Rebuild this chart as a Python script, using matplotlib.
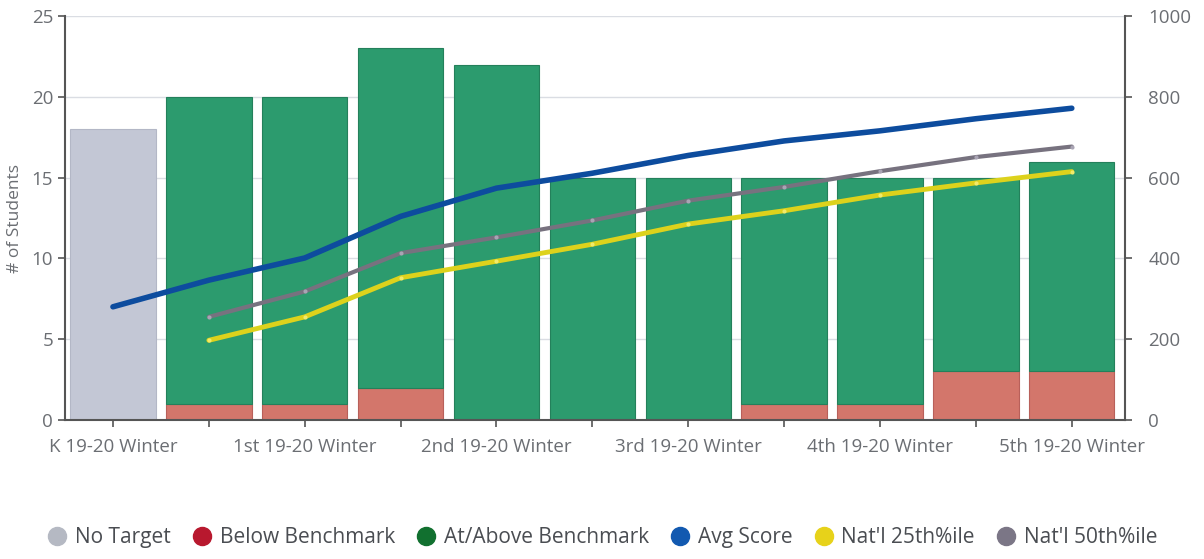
import matplotlib
matplotlib.use("Agg")
import matplotlib.pyplot as plt
from matplotlib.lines import Line2D
import numpy as np

plt.rcParams['font.family'] = ['Open Sans', 'DejaVu Sans']

grades = ["K 19-20 Winter", "", "1st 19-20 Winter", "", "2nd 19-20 Winter", "",
          "3rd 19-20 Winter", "", "4th 19-20 Winter", "", "5th 19-20 Winter"]
no_target = [18, 0, 0, 0, 0, 0, 0, 0, 0, 0, 0]
below = [0, 1, 1, 2, 0, 0, 0, 1, 1, 3, 3]
at_above = [0, 19, 19, 21, 22, 15, 15, 14, 14, 12, 13]
avg_score = [280, 346, 401, 504, 574, 611, 655, 691, 716, 746, 772]
natl_25 = [None, 197, 255, 352, 393, 435, 485, 518, 557, 587, 615]
natl_50 = [None, 255, 318, 413, 452, 494, 543, 577, 616, 651, 677]

c_gray = "#c3c7d5"
c_red = "#d3766b"
c_green = "#2c9b6e"
c_blue = "#0d4c9e"
c_yellow = "#ddd21c"
c_grayline = "#77727f"
txt = "#6b6e73"

fig = plt.figure(figsize=(12.04, 5.59), dpi=100)
ax = fig.add_axes([0.054, 0.249, 0.880, 0.722])
x = np.arange(len(grades))
w = 0.89

ax.bar(x, no_target, w, color=c_gray, edgecolor="#b3b7c6", linewidth=0.8, zorder=2)
ax.bar(x, below, w, color=c_red, edgecolor="#b8605a", linewidth=0.8, zorder=2)
ax.bar(x, at_above, w, bottom=below, color=c_green, edgecolor="#24805b", linewidth=0.8, zorder=2)

ax.set_xlim(-0.5, 10.55)
ax.set_ylim(0, 25)
ax.set_yticks([0, 5, 10, 15, 20, 25])
ax.set_xticks(x)
ax.set_xticklabels(grades)
ax.grid(axis='y', color="#dadde3", linewidth=1, zorder=0)
ax.set_ylabel("# of Students", color=txt, fontsize=12.5, labelpad=6)
ax.tick_params(axis='both', colors="#555555", labelcolor=txt, labelsize=13.5, length=5, width=1.2)
ax.tick_params(axis='x', pad=8)
for s in ["left", "bottom"]:
    ax.spines[s].set_color("#555555")
    ax.spines[s].set_linewidth(1.5)
ax.spines["top"].set_visible(False)
ax.spines["right"].set_visible(False)

ax2 = ax.twinx()
ax2.set_ylim(0, 1000)
ax2.set_yticks([0, 200, 400, 600, 800, 1000])
ax2.tick_params(axis='y', colors="#555555", labelcolor=txt, labelsize=13.5, length=5, width=1.2, pad=12)
for s in ["left", "bottom", "top"]:
    ax2.spines[s].set_visible(False)
ax2.spines["right"].set_color("#555555")
ax2.spines["right"].set_linewidth(1.5)

def series(vals):
    xs = [i for i, v in enumerate(vals) if v is not None]
    ys = [v for v in vals if v is not None]
    return xs, ys

xs, ys = series(natl_50)
ax2.plot(xs, ys, color=c_grayline, linewidth=3, solid_capstyle='round', marker='o',
         markersize=3, markerfacecolor="#a9a4b4", markeredgewidth=0, zorder=3)
xs, ys = series(natl_25)
ax2.plot(xs, ys, color=c_yellow, linewidth=3.5, solid_capstyle='round', marker='o',
         markersize=3, markerfacecolor="#f2ea6a", markeredgewidth=0, zorder=4)
xs, ys = series(avg_score)
ax2.plot(xs, ys, color=c_blue, linewidth=4, solid_capstyle='round', zorder=5)

labels = ["No Target", "Below Benchmark", "At/Above Benchmark", "Avg Score", "Nat'l 25th%ile", "Nat'l 50th%ile"]
colors = ["#b5b9c3", "#b8182e", "#11702f", "#1259b0", "#e7d21a", "#7b7686"]
handles = [Line2D([0], [0], marker='o', linestyle='none', markersize=13,
                  markerfacecolor=c, markeredgecolor=c) for c in colors]
fig.legend(handles, labels, loc='center', bbox_to_anchor=(0.5, 0.038), ncol=6, frameon=False,
           fontsize=15, labelcolor="#4a4d52", handlelength=1.0, handletextpad=0.35,
           columnspacing=1.0)

fig.savefig("out.png", dpi=100)
